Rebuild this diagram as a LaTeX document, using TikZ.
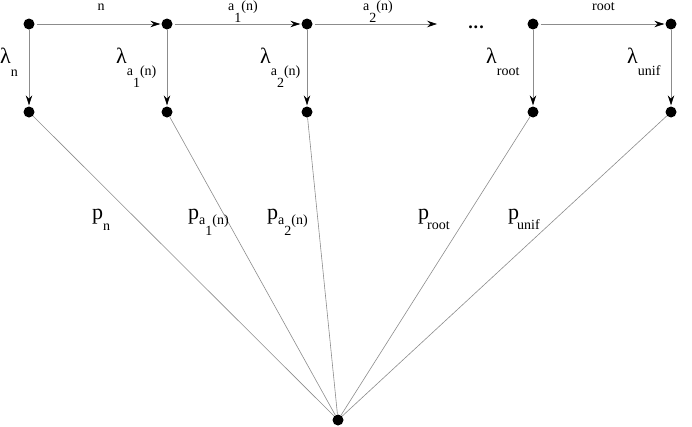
\documentclass[tikz,border=0pt]{standalone}
\usepackage{fontspec}
\setmainfont{Liberation Serif}
\usetikzlibrary{arrows.meta}
\newcommand\bigf{\fontsize{22}{22}\selectfont}
\newcommand\smf{\fontsize{14}{14}\selectfont}
\newcommand\dn[2]{\raisebox{-#1pt}{#2}}
\tikzset{
  dot/.style={circle,fill=black,inner sep=0pt,minimum size=11pt},
  conn/.style={draw=black!45,line width=0.6pt},
  arr/.style={conn,-{Stealth[length=10pt,width=6.5pt,inset=3.5pt,black]},shorten <=2pt,shorten >=1pt},
  lbl/.style={inner sep=0pt,anchor=base west,font=\smf},
}
\begin{document}
\begin{tikzpicture}[x=1pt,y=-1pt]
\useasboundingbox (0,0) rectangle (692,426);
% dots
\foreach \i/\x in {1/29,2/167,3/307,4/533,5/671}{
  \node[dot] (t\i) at (\x,24) {};
  \node[dot] (b\i) at (\x,112) {};
}
\node[dot] (z) at (338,420) {};
\coordinate (e3) at (438,24);
% horizontal arrows
\draw[arr] (t1) -- (t2);
\draw[arr] (t2) -- (t3);
\draw[arr] (t3) -- (e3);
\draw[arr] (t4) -- (t5);
% vertical arrows
\foreach \i in {1,...,5}{ \draw[arr,shorten <=0pt] (t\i) -- (b\i); }
% fan lines
\foreach \i in {1,...,5}{ \draw[conn] (b\i) -- (z); }
% top labels
\node[lbl,anchor=base] (ln) at (101,10) {n};
\node[lbl] (la1) at (228,10) {a\dn{12}{1}(n)};
\node[lbl] (la2) at (363,10) {a\dn{12}{2}(n)};
\node[lbl] (lroot) at (592,10) {root};
\node[inner sep=0pt,anchor=base,font=\fontsize{18}{18}\selectfont\bfseries] (dots) at (476,28) {.\kern1pt.\kern1pt.};
% lambda labels
\node[lbl] (lam1) at (0,63) {{\bigf λ}\dn{13}{n}};
\node[lbl] (lam2) at (116,63) {{\bigf λ}\dn{12}{a\dn{12}{1}(n)}};
\node[lbl] (lam3) at (260,63) {{\bigf λ}\dn{12}{a\dn{12}{2}(n)}};
\node[lbl] (lam4) at (486,63) {{\bigf λ}\dn{12}{root}};
\node[lbl] (lam5) at (627,63) {{\bigf λ}\dn{12}{unif}};
% p labels
\node[lbl] (p1) at (92,219) {{\bigf p}\dn{11}{n}};
\node[lbl] (p2) at (188,219) {{\bigf p}\dn{5}{a\dn{11}{1}(n)}};
\node[lbl] (p3) at (267,219) {{\bigf p}\dn{5}{a\dn{11}{2}(n)}};
\node[lbl] (p4) at (418,219) {{\bigf p}\kern-2pt\dn{10}{root}};
\node[lbl] (p5) at (508,219) {{\bigf p}\kern-2pt\dn{10}{unif}};
\end{tikzpicture}
\end{document}
